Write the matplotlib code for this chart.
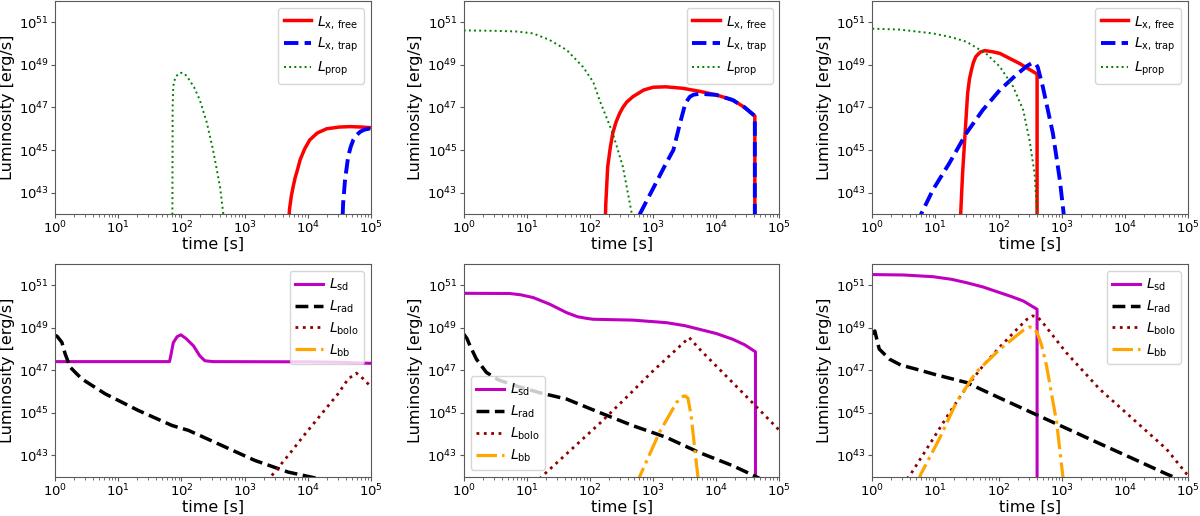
import numpy as np
import matplotlib.pyplot as plt

# all values are log10: t in s, L in erg/s

# --- top left
a_free_t = [3.69, 3.71, 3.74, 3.77, 3.80, 3.83, 3.88, 3.95, 4.03, 4.15, 4.30, 4.50, 4.67, 4.85, 5.00]
a_free_L = [41.0, 42.2, 42.85, 43.3, 43.7, 44.0, 44.55, 45.05, 45.47, 45.8, 46.0, 46.08, 46.1, 46.08, 46.05]
a_trap_t = [4.54, 4.56, 4.59, 4.64, 4.68, 4.72, 4.78, 4.83, 4.90, 5.00]
a_trap_L = [41.0, 42.5, 43.6, 44.7, 45.15, 45.47, 45.72, 45.86, 45.96, 46.02]
a_prop_t = [1.855, 1.86, 1.87, 1.90, 1.95, 2.00, 2.05, 2.10, 2.20, 2.29, 2.40, 2.50, 2.61, 2.67]
a_prop_L = [41.0, 47.0, 48.0, 48.4, 48.58, 48.63, 48.58, 48.4, 47.95, 47.35, 46.3, 45.0, 43.28, 41.8]

# --- top middle
b_free_t = [2.235, 2.25, 2.28, 2.32, 2.36, 2.41, 2.47, 2.52, 2.58, 2.68, 2.85, 3.00, 3.20, 3.47, 3.75, 4.00, 4.26, 4.45, 4.61, 4.61]
b_free_L = [41.0, 42.5, 44.22, 45.1, 45.79, 46.3, 46.73, 47.0, 47.25, 47.51, 47.82, 47.95, 47.97, 47.9, 47.75, 47.59, 47.35, 47.0, 46.6, 40.0]
b_trap_t = [2.77, 2.79, 3.00, 3.20, 3.32, 3.42, 3.51, 3.58, 3.64, 3.75, 3.85, 4.00, 4.26, 4.45, 4.61, 4.61]
b_trap_L = [41.0, 42.0, 43.2, 44.35, 45.0, 46.2, 47.2, 47.5, 47.6, 47.65, 47.62, 47.59, 47.35, 47.0, 46.6, 40.0]
b_prop_t = [0.0, 0.5, 0.83, 1.10, 1.36, 1.63, 1.89, 2.05, 2.15, 2.36, 2.52, 2.66, 2.70]
b_prop_L = [50.62, 50.6, 50.57, 50.48, 50.17, 49.7, 48.9, 48.2, 47.35, 45.79, 44.22, 42.03, 41.0]

# --- top right
c_free_t = [1.395, 1.40, 1.43, 1.47, 1.51, 1.54, 1.57, 1.60, 1.64, 1.71, 1.78, 1.90, 2.02, 2.33, 2.61, 2.61]
c_free_L = [41.0, 42.0, 43.9, 45.79, 47.67, 48.35, 48.76, 49.1, 49.39, 49.6, 49.67, 49.62, 49.54, 49.07, 48.57, 40.0]
c_trap_t = [0.70, 0.775, 0.96, 1.22, 1.49, 1.75, 2.02, 2.28, 2.45, 2.52, 2.58, 2.62, 2.70, 2.86, 2.97, 3.03, 3.06]
c_trap_L = [41.5, 42.0, 43.13, 44.38, 45.79, 46.88, 47.82, 48.53, 48.95, 49.07, 49.08, 48.9, 47.98, 45.79, 43.6, 42.03, 41.0]
c_prop_t = [0.0, 0.43, 0.96, 1.25, 1.49, 1.80, 2.02, 2.23, 2.39, 2.49, 2.57, 2.61, 2.63]
c_prop_L = [50.7, 50.66, 50.48, 50.3, 50.09, 49.54, 48.92, 47.98, 46.88, 45.47, 43.9, 42.03, 41.0]

# --- bottom left
d_sd_t = [0.0, 1.81, 1.83, 1.87, 1.93, 1.99, 2.07, 2.19, 2.29, 2.37, 2.50, 4.00, 4.50, 5.00]
d_sd_L = [47.41, 47.41, 47.68, 48.3, 48.58, 48.67, 48.5, 48.15, 47.68, 47.45, 47.41, 47.4, 47.38, 47.33]
d_rad_t = [0.0, 0.03, 0.105, 0.158, 0.237, 0.42, 0.79, 1.32, 1.85, 2.11, 2.64, 3.16, 3.69, 4.11, 4.2]
d_rad_L = [48.64, 48.6, 48.32, 47.77, 47.15, 46.6, 45.9, 45.11, 44.41, 44.18, 43.47, 42.77, 42.22, 41.95, 41.85]
d_bolo_t = [3.43, 3.69, 3.96, 4.22, 4.48, 4.64, 4.77, 4.88, 4.98]
d_bolo_L = [42.06, 43.0, 44.02, 44.96, 45.9, 46.6, 46.87, 46.6, 46.29]
d_bb_t = []
d_bb_L = []

# --- bottom middle
e_sd_t = [0.0, 0.73, 0.90, 1.10, 1.36, 1.63, 1.80, 1.95, 2.05, 2.68, 3.21, 3.50, 3.73, 4.00, 4.26, 4.45, 4.62, 4.62]
e_sd_L = [50.62, 50.61, 50.55, 50.42, 50.11, 49.71, 49.52, 49.44, 49.4, 49.36, 49.24, 49.1, 48.93, 48.73, 48.46, 48.2, 47.87, 40.0]
e_rad_t = [0.0, 0.05, 0.10, 0.20, 0.36, 0.55, 0.83, 1.20, 1.63, 2.15, 2.68, 3.21, 3.73, 4.26, 4.60, 4.70]
e_rad_L = [48.7, 48.5, 48.15, 47.53, 46.9, 46.55, 46.27, 45.95, 45.65, 45.02, 44.4, 43.85, 43.14, 42.52, 42.05, 41.9]
e_bolo_t = [1.20, 1.28, 1.60, 2.15, 2.60, 3.00, 3.30, 3.57, 3.75, 4.00, 4.50, 4.98, 5.00]
e_bolo_L = [41.9, 42.13, 43.0, 44.5, 45.8, 46.98, 47.8, 48.54, 47.95, 47.2, 45.7, 44.24, 44.18]
e_bb_t = [2.76, 2.78, 3.10, 3.37, 3.45, 3.50, 3.55, 3.60, 3.63, 3.67, 3.71, 3.73]
e_bb_L = [41.5, 41.97, 44.09, 45.49, 45.75, 45.8, 45.7, 44.9, 44.09, 43.0, 41.97, 41.5]

# --- bottom right
f_sd_t = [0.0, 0.5, 0.96, 1.25, 1.49, 1.75, 2.02, 2.20, 2.39, 2.61, 2.61]
f_sd_L = [51.5, 51.48, 51.4, 51.28, 51.12, 50.92, 50.65, 50.47, 50.26, 49.87, 40.0]
f_rad_t = [0.0, 0.04, 0.11, 0.27, 0.45, 0.69, 1.00, 1.49, 2.02, 2.61, 3.07, 3.60, 4.13, 4.66, 4.79, 4.85]
f_rad_L = [48.7, 48.85, 48.0, 47.53, 47.25, 47.06, 46.8, 46.43, 45.7, 44.9, 44.28, 43.56, 42.85, 42.13, 41.97, 41.85]
f_bolo_t = [0.55, 0.61, 0.96, 1.22, 1.49, 1.75, 2.02, 2.28, 2.45, 2.54, 2.62, 2.70, 3.07, 3.60, 4.13, 4.66, 4.98, 5.00]
f_bolo_L = [41.9, 42.13, 43.77, 45.0, 46.2, 47.2, 48.1, 48.9, 49.4, 49.56, 49.5, 49.24, 47.84, 46.12, 44.71, 43.3, 42.13, 42.08]
f_bb_t = [0.72, 0.77, 1.06, 1.33, 1.64, 2.02, 2.28, 2.40, 2.49, 2.56, 2.61, 2.68, 2.76, 2.92, 3.02, 3.04]
f_bb_L = [41.7, 42.13, 43.77, 45.49, 46.9, 47.99, 48.62, 48.9, 49.04, 49.0, 48.77, 48.2, 47.21, 44.55, 41.97, 41.5]


def p(v):
    return 10.0 ** np.asarray(v, dtype=float)


plt.rcParams["axes.edgecolor"] = "0.35"
leg_kw = dict(fontsize=10, labelspacing=0.4, borderpad=0.4, handletextpad=0.4)

fig, axes = plt.subplots(2, 3, figsize=(12, 5.16), dpi=100)
fig.subplots_adjust(left=0.046, right=0.99, bottom=0.076, top=0.998,
                    wspace=0.294, hspace=0.235)

top = [(a_free_t, a_free_L, a_trap_t, a_trap_L, a_prop_t, a_prop_L),
       (b_free_t, b_free_L, b_trap_t, b_trap_L, b_prop_t, b_prop_L),
       (c_free_t, c_free_L, c_trap_t, c_trap_L, c_prop_t, c_prop_L)]
for ax, (ft, fL, tt, tL, pt, pL) in zip(axes[0], top):
    ax.plot(p(ft), p(fL), color="red", lw=2.5, label=r"$L_{\rm x,\,free}$")
    ax.plot(p(tt), p(tL), color="blue", lw=2.8, ls="--", label=r"$L_{\rm x,\,trap}$")
    ax.plot(p(pt), p(pL), color="green", lw=1.4, ls=":", label=r"$L_{\rm prop}$")
    ax.legend(loc="upper right", **leg_kw)

bottom = [(d_sd_t, d_sd_L, d_rad_t, d_rad_L, d_bolo_t, d_bolo_L, d_bb_t, d_bb_L, "upper right"),
          (e_sd_t, e_sd_L, e_rad_t, e_rad_L, e_bolo_t, e_bolo_L, e_bb_t, e_bb_L, "lower left"),
          (f_sd_t, f_sd_L, f_rad_t, f_rad_L, f_bolo_t, f_bolo_L, f_bb_t, f_bb_L, "upper right")]
for ax, (st, sL, rt, rL, bt, bL, kt, kL, loc) in zip(axes[1], bottom):
    ax.plot(p(st), p(sL), color="m", lw=2.2, label=r"$L_{\rm sd}$")
    ax.plot(p(rt), p(rL), color="black", lw=2.5, ls="--", label=r"$L_{\rm rad}$")
    ax.plot(p(bt), p(bL), color="darkred", lw=2.0, ls=":", label=r"$L_{\rm bolo}$")
    ax.plot(p(kt), p(kL), color="orange", lw=2.3, ls="-.", label=r"$L_{\rm bb}$")
    ax.legend(loc=loc, **leg_kw)

for ax in axes.flat:
    ax.set_xscale("log")
    ax.set_yscale("log")
    ax.set_xlim(1, 1e5)
    ax.set_ylim(1e42, 1e52)
    ax.set_yticks([1e43, 1e45, 1e47, 1e49, 1e51])
    ax.yaxis.set_minor_locator(plt.NullLocator())
    ax.tick_params(labelsize=9.5, color="0.35", length=3, pad=1.5)
    ax.tick_params(which="minor", color="0.35", length=1.8)
    ax.set_xlabel("time [s]", fontsize=11.5, labelpad=0)
    ax.set_ylabel("Luminosity [erg/s]", fontsize=11.5, labelpad=3)

fig.savefig("out.png")
